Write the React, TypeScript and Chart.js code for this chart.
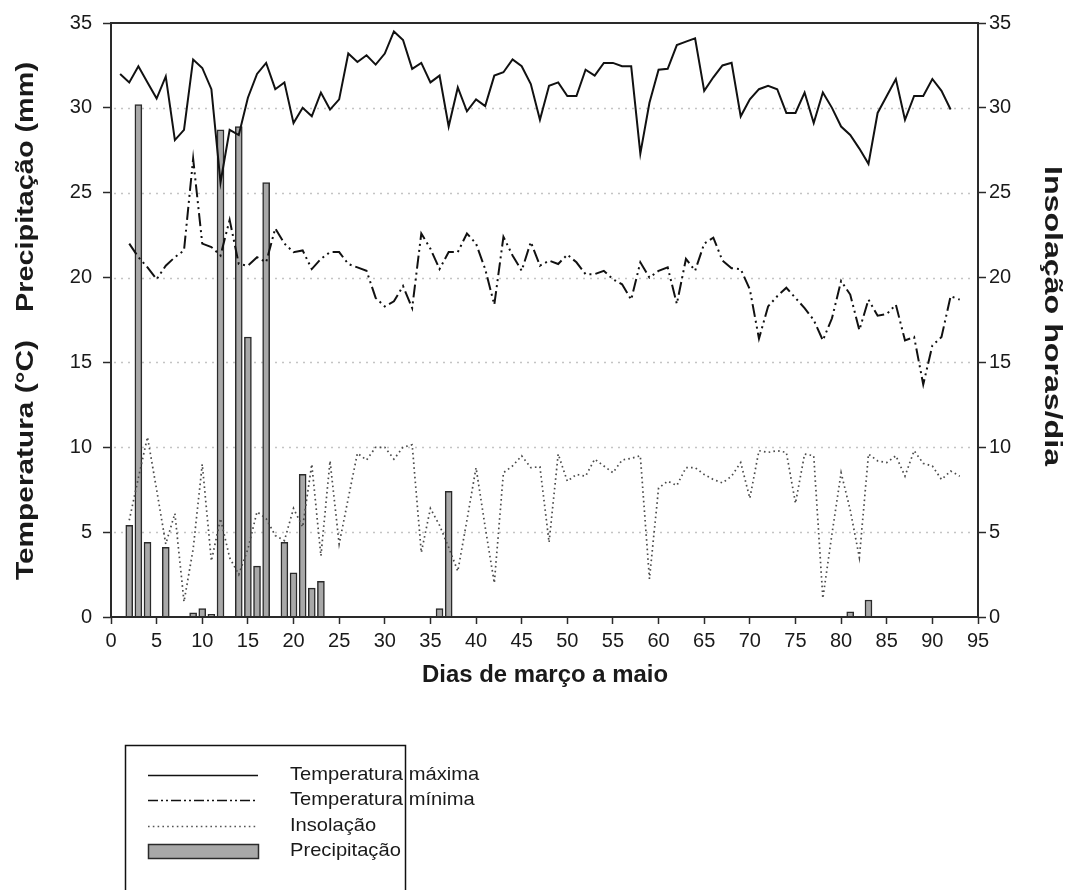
import React, { useEffect, useRef } from 'react';
import { Chart, registerables } from 'chart.js';

Chart.register(...registerables);

// ---------- data ----------
const tmaxFirstDay = 1;
const tmaxValues = [
  32.0, 31.5, 32.45, 31.5, 30.55, 31.85, 28.1, 28.7, 32.85, 32.35,
  31.1, 25.6, 28.7, 28.4, 30.6, 32.0, 32.65, 31.1, 31.5, 29.1,
  30.0, 29.5, 30.9, 29.9, 30.5, 33.2, 32.7, 33.1, 32.55, 33.2,
  34.5, 34.0, 32.3, 32.65, 31.5, 31.9, 28.9, 31.2, 29.8, 30.5,
  30.1, 31.9, 32.1, 32.85, 32.45, 31.4, 29.3, 31.3, 31.5, 30.7,
  30.7, 32.25, 31.9, 32.65, 32.65, 32.45, 32.45, 27.3, 30.3, 32.25,
  32.3, 33.7, 33.9, 34.1, 31.0, 31.8, 32.5, 32.65, 29.5, 30.5,
  31.1, 31.3, 31.1, 29.7, 29.7, 30.9, 29.1, 30.9, 30.0, 28.9,
  28.4, 27.6, 26.7, 29.7, 30.7, 31.7, 29.3, 30.7, 30.7, 31.7,
  31.0, 29.9,
];

const tminFirstDay = 2;
const tminValues = [
  22.0, 21.2, 20.6, 19.9, 20.7, 21.2, 21.6, 27.0, 22.0,
  21.8, 21.3, 23.4, 20.8, 20.7, 21.2, 20.9, 22.9, 22.0, 21.5,
  21.6, 20.5, 21.1, 21.5, 21.5, 20.8, 20.6, 20.4, 18.8, 18.3,
  18.6, 19.5, 18.2, 22.6, 21.7, 20.5, 21.5, 21.5, 22.6, 22.0,
  20.5, 18.4, 22.4, 21.3, 20.4, 22.1, 20.7, 21.0, 20.8, 21.35,
  20.9, 20.2, 20.2, 20.4, 19.9, 19.6, 18.7, 20.9, 20.0, 20.4,
  20.6, 18.45, 21.1, 20.4, 22.0, 22.35, 21.0, 20.55, 20.5, 19.3,
  16.4, 18.3, 18.9, 19.4, 18.8, 18.2, 17.5, 16.3, 17.6, 19.8,
  19.0, 16.9, 18.7, 17.75, 17.85, 18.4, 16.3, 16.5, 13.7, 16.0,
  16.5, 18.9, 18.7,
];

const insolFirstDay = 2;
const insolValues = [
  5.7, 8.2, 10.6, 7.5, 4.3, 6.1, 0.9, 4.0, 9.0,
  3.3, 5.8, 3.5, 2.5, 4.0, 6.2, 5.8, 4.8, 4.5, 6.4,
  5.3, 9.0, 3.6, 9.2, 4.3, 7.0, 9.65, 9.25, 10.0, 10.0,
  9.3, 10.0, 10.15, 3.8, 6.4, 5.4, 4.1, 2.7, 5.7, 8.8,
  5.3, 2.0, 8.5, 8.9, 9.5, 8.8, 8.85, 4.4, 9.6, 8.0,
  8.4, 8.3, 9.3, 8.9, 8.5, 9.25, 9.35, 9.5, 2.25, 7.6,
  8.0, 7.75, 8.8, 8.8, 8.4, 8.1, 7.9, 8.3, 9.1, 7.0,
  9.8, 9.7, 9.8, 9.7, 6.7, 9.6, 9.5, 1.1, 4.9, 8.5,
  6.3, 3.5, 9.6, 9.2, 9.1, 9.5, 8.3, 9.8, 9.05, 8.9,
  8.1, 8.6, 8.3,
];

const precipDays = [2, 3, 4, 6, 9, 10, 11, 12, 14, 15, 16, 17, 19, 20, 21, 22, 23, 36, 37, 81, 83];
const precipValues = [5.4, 30.2, 4.4, 4.1, 0.25, 0.5, 0.15, 28.7, 28.9, 16.5, 3.0, 25.6, 4.4, 2.6, 8.4, 1.7, 2.1, 0.5, 7.4, 0.3, 1.0];

const xMin = 0;
const xMax = 95;
const yMin = 0;
const yMax = 35;
const tickStep = 5;
const gridValues = [5, 10, 15, 20, 25, 30];

const labelTmax = 'Temperatura máxima';
const labelTmin = 'Temperatura mínima';
const labelInsol = 'Insolação';
const labelPrecip = 'Precipitação';
const titleX = 'Dias de março a maio';
const titleLeftTop = 'Precipitação (mm)';
const titleLeftBottom = 'Temperatura (°C)';
const titleRight = 'Insolação horas/dia';

// ---------- styles ----------
const FONT = '"Liberation Sans", Arial, sans-serif';
const INK = '#1a1a1a';
const DASH_TMIN = [13, 4, 2, 4, 2, 4];
const DASH_INSOL = [1.6, 3.2];
const BAR_FILL = '#a8a8a8';
const BAR_EDGE = '#2a2a2a';

const toPoints = (first: number, vals: number[]) => vals.map((v, i) => ({ x: first + i, y: v }));

// draw text centred at (cx, cy), rotated, stretched along its reading direction to a given length
function drawFitted(ctx: CanvasRenderingContext2D, text: string, cx: number, cy: number, angle: number, font: string, length: number) {
  ctx.save();
  ctx.font = font;
  ctx.textAlign = 'center';
  ctx.textBaseline = 'middle';
  const w = ctx.measureText(text).width;
  ctx.translate(cx, cy);
  ctx.rotate(angle);
  ctx.scale(length / w, 1);
  ctx.fillText(text, 0, 0);
  ctx.restore();
}

const decorPlugin = {
  id: 'decor',
  beforeDatasetsDraw(chart: any) {
    const { ctx, chartArea: a, scales } = chart;
    const y = scales.y;
    ctx.save();
    ctx.strokeStyle = '#c4c4c4';
    ctx.lineWidth = 1.5;
    ctx.setLineDash([2, 5]);
    for (const v of gridValues) {
      const py = Math.round(y.getPixelForValue(v)) + 0.5;
      ctx.beginPath();
      ctx.moveTo(a.left + 3, py);
      ctx.lineTo(a.right - 3, py);
      ctx.stroke();
    }
    ctx.restore();
  },
  afterDraw(chart: any) {
    const { ctx, chartArea: a } = chart;
    ctx.save();
    // frame
    ctx.strokeStyle = '#2a2a2a';
    ctx.lineWidth = 2;
    ctx.setLineDash([]);
    ctx.strokeRect(a.left, a.top, a.right - a.left, a.bottom - a.top);

    // axis titles
    ctx.fillStyle = INK;
    const bold = `bold 23px ${FONT}`;
    drawFitted(ctx, titleX, 545, 676, 0, bold, 246);
    drawFitted(ctx, titleLeftTop, 27, 187, -Math.PI / 2, bold, 250);
    drawFitted(ctx, titleLeftBottom, 27, 460, -Math.PI / 2, bold, 240);
    drawFitted(ctx, titleRight, 1051, 316, Math.PI / 2, bold, 300);

    // legend box
    ctx.strokeStyle = '#111';
    ctx.lineWidth = 1.5;
    ctx.strokeRect(125.5, 745.5, 280, 170);

    const lx0 = 148;
    const lx1 = 258;
    const tx = 290;
    const rows = [775, 800, 826, 851];
    ctx.lineWidth = 1.3;
    ctx.strokeStyle = '#111';
    ctx.setLineDash([]);
    ctx.beginPath();
    ctx.moveTo(lx0, rows[0] + 0.5);
    ctx.lineTo(lx1, rows[0] + 0.5);
    ctx.stroke();
    ctx.setLineDash([10, 3, 2, 3, 2, 3]);
    ctx.beginPath();
    ctx.moveTo(lx0, rows[1] + 0.5);
    ctx.lineTo(lx1, rows[1] + 0.5);
    ctx.stroke();
    ctx.strokeStyle = '#555';
    ctx.setLineDash(DASH_INSOL);
    ctx.beginPath();
    ctx.moveTo(lx0, rows[2] + 0.5);
    ctx.lineTo(lx1, rows[2] + 0.5);
    ctx.stroke();
    ctx.setLineDash([]);
    ctx.fillStyle = BAR_FILL;
    ctx.fillRect(lx0, rows[3] - 7, lx1 - lx0, 14);
    ctx.strokeStyle = BAR_EDGE;
    ctx.lineWidth = 1.5;
    ctx.strokeRect(lx0 + 0.5, rows[3] - 6.5, lx1 - lx0, 14);

    ctx.fillStyle = INK;
    const reg = `19px ${FONT}`;
    ctx.font = reg;
    ctx.textAlign = 'left';
    ctx.textBaseline = 'middle';
    const legendScale = 1.06;
    const texts = [labelTmax, labelTmin, labelInsol, labelPrecip];
    texts.forEach((t, i) => {
      ctx.save();
      ctx.translate(tx, rows[i]);
      ctx.scale(legendScale, 1);
      ctx.fillText(t, 0, 0);
      ctx.restore();
    });
    ctx.restore();
  },
};

export default function App() {
  const canvasRef = useRef<HTMLCanvasElement | null>(null);

  useEffect(() => {
    const canvas = canvasRef.current;
    if (!canvas) return;
    Chart.defaults.font.family = FONT;

    const tickFont = { size: 20, family: FONT };
    const chart = new Chart(canvas, {
      type: 'line',
      data: {
        datasets: [
          {
            type: 'line',
            label: labelTmax,
            data: toPoints(tmaxFirstDay, tmaxValues),
            borderColor: '#111',
            borderWidth: 2,
            pointRadius: 0,
            tension: 0,
            yAxisID: 'y',
            order: 1,
          },
          {
            type: 'line',
            label: labelTmin,
            data: toPoints(tminFirstDay, tminValues),
            borderColor: '#111',
            borderWidth: 2,
            borderDash: DASH_TMIN,
            pointRadius: 0,
            tension: 0,
            yAxisID: 'y',
            order: 2,
          },
          {
            type: 'line',
            label: labelInsol,
            data: toPoints(insolFirstDay, insolValues),
            borderColor: '#4a4a4a',
            borderWidth: 1.7,
            borderDash: DASH_INSOL,
            pointRadius: 0,
            tension: 0,
            yAxisID: 'y2',
            order: 3,
          },
          {
            type: 'bar',
            label: labelPrecip,
            data: precipDays.map((d, i) => ({ x: d, y: precipValues[i] })),
            backgroundColor: BAR_FILL,
            borderColor: BAR_EDGE,
            borderWidth: 1.5,
            barThickness: 7,
            yAxisID: 'y',
            order: 4,
          } as any,
        ],
      },
      options: {
        responsive: false,
        animation: false,
        devicePixelRatio: 1,
        events: [],
        layout: { padding: { top: 22, left: 0, right: 0, bottom: 0 } },
        plugins: {
          legend: { display: false },
          tooltip: { enabled: false },
          title: { display: false },
        },
        scales: {
          x: {
            type: 'linear',
            min: xMin,
            max: xMax,
            offset: false,
            ticks: { stepSize: tickStep, color: INK, font: tickFont, padding: 5, maxRotation: 0, autoSkip: false },
            grid: { display: true, drawOnChartArea: false, drawTicks: true, tickLength: 7, tickColor: '#2a2a2a', tickWidth: 1.5, offset: false },
            border: { display: false },
            afterFit: (s: any) => { s.height = 890 - 617; },
          },
          y: {
            type: 'linear',
            position: 'left',
            min: yMin,
            max: yMax,
            ticks: { stepSize: tickStep, color: INK, font: tickFont, padding: 11 },
            grid: { display: true, drawOnChartArea: false, drawTicks: true, tickLength: 8, tickColor: '#2a2a2a', tickWidth: 1.5 },
            border: { display: false },
            afterFit: (s: any) => { s.width = 111; },
          },
          y2: {
            type: 'linear',
            position: 'right',
            min: yMin,
            max: yMax,
            ticks: { stepSize: tickStep, color: INK, font: tickFont, padding: 3 },
            grid: { display: true, drawOnChartArea: false, drawTicks: true, tickLength: 8, tickColor: '#2a2a2a', tickWidth: 1.5 },
            border: { display: false },
            afterFit: (s: any) => { s.width = 1068 - 978; },
          },
        },
      } as any,
      plugins: [decorPlugin],
    });

    return () => chart.destroy();
  }, []);

  return (
    <div style={{ position: 'fixed', left: 0, top: 0, width: 1068, height: 890, background: '#fff' }}>
      <canvas ref={canvasRef} width={1068} height={890} style={{ display: 'block' }} />
    </div>
  );
}
